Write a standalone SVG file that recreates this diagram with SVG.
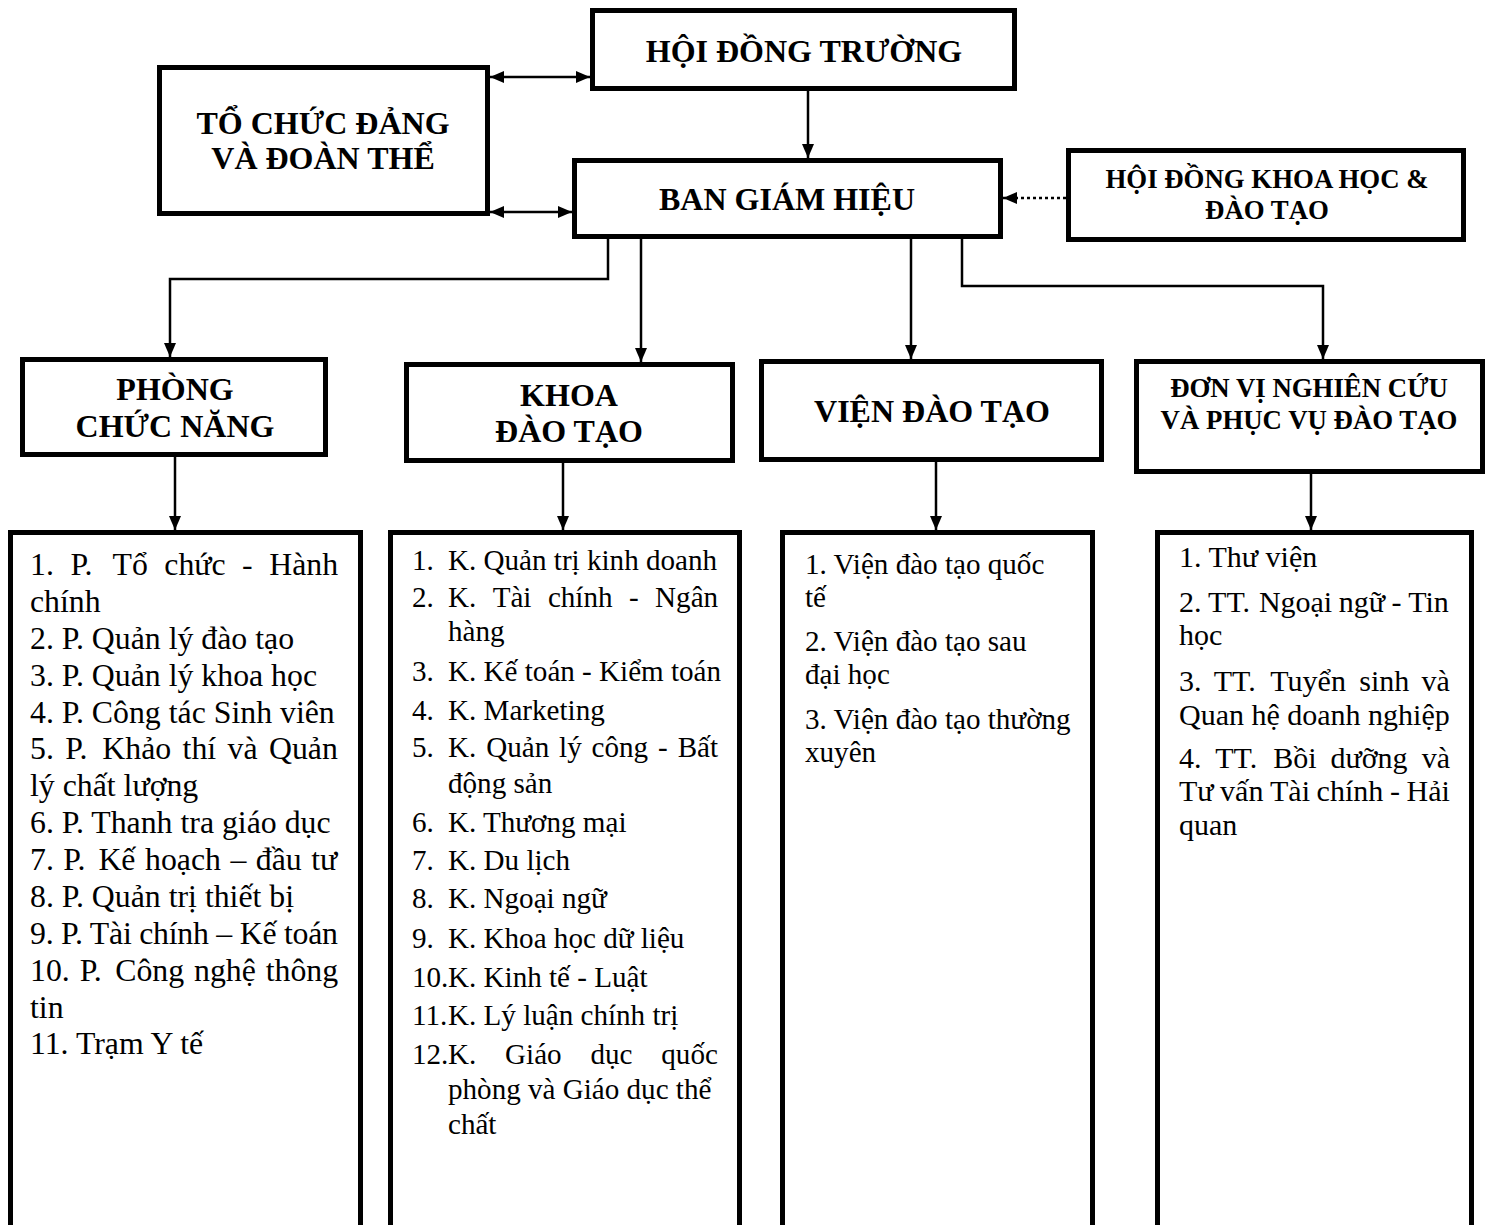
<svg xmlns="http://www.w3.org/2000/svg" width="1488" height="1225" viewBox="0 0 1488 1225">
<style>
.box{fill:#fff;stroke:#000;stroke-width:5}
.t{font-family:"Liberation Serif","Times New Roman",serif;font-weight:bold;font-size:32px;text-anchor:middle;fill:#000}
.s{font-size:26.8px}
.l{font-family:"Liberation Serif","Times New Roman",serif;font-size:29.1px;fill:#000}
.l1{font-size:31.8px}
.l4{font-size:30px}
.c{fill:none;stroke:#000;stroke-width:2.5}
.d{stroke-dasharray:3 3}
</style>
<defs>
<marker id="ah" viewBox="0 0 14 12" refX="14" refY="6" markerWidth="14" markerHeight="12" markerUnits="userSpaceOnUse" orient="auto-start-reverse">
<path d="M0,0 L14,6 L0,12 z" fill="#000"/>
</marker>
</defs>
<rect width="1488" height="1225" fill="#fff"/>

<g id="hoi-dong-truong">
<rect class="box" x="592.5" y="10.5" width="422" height="78"/>
<text class="t" x="804" y="62">HỘI ĐỒNG TRƯỜNG</text>
</g>
<g id="to-chuc-dang">
<rect class="box" x="159.5" y="67.5" width="328" height="146"/>
<text class="t" x="323" y="134">TỔ CHỨC ĐẢNG</text>
<text class="t" x="323" y="169">VÀ ĐOÀN THỂ</text>
</g>
<g id="ban-giam-hieu">
<rect class="box" x="574.5" y="160.5" width="426" height="76"/>
<text class="t" x="787" y="210">BAN GIÁM HIỆU</text>
</g>
<g id="hoi-dong-khoa-hoc">
<rect class="box" x="1068.5" y="150.5" width="395" height="89"/>
<text class="t s" x="1267" y="188">HỘI ĐỒNG KHOA HỌC &amp;</text>
<text class="t s" x="1267" y="219">ĐÀO TẠO</text>
</g>
<g id="phong-chuc-nang">
<rect class="box" x="22.5" y="359.5" width="303" height="95"/>
<text class="t" x="175" y="400">PHÒNG</text>
<text class="t" x="175" y="437">CHỨC NĂNG</text>
</g>
<g id="khoa-dao-tao">
<rect class="box" x="406.5" y="364.5" width="326" height="96"/>
<text class="t" x="569" y="406">KHOA</text>
<text class="t" x="569" y="442">ĐÀO TẠO</text>
</g>
<g id="vien-dao-tao">
<rect class="box" x="761.5" y="361.5" width="340" height="98"/>
<text class="t" x="932" y="422">VIỆN ĐÀO TẠO</text>
</g>
<g id="don-vi-nghien-cuu">
<rect class="box" x="1136.5" y="361.5" width="346" height="110"/>
<text class="t s" x="1309" y="397">ĐƠN VỊ NGHIÊN CỨU</text>
<text class="t s" x="1309" y="429">VÀ PHỤC VỤ ĐÀO TẠO</text>
</g>

<g id="list-phong">
<rect class="box" x="10.5" y="532.5" width="350" height="720"/>
<text class="l l1" y="575"><tspan x="30">1.</tspan><tspan x="70.4">P.</tspan><tspan x="112.5">Tổ</tspan><tspan x="164.3">chức</tspan><tspan x="242.1">-</tspan><tspan x="269.2">Hành</tspan></text>
<text class="l l1" x="30" y="612">chính</text>
<text class="l l1" x="30" y="649">2. P. Quản lý đào tạo</text>
<text class="l l1" x="30" y="686">3. P. Quản lý khoa học</text>
<text class="l l1" x="30" y="723">4. P. Công tác Sinh viên</text>
<text class="l l1" y="759"><tspan x="30">5.</tspan><tspan x="65.3">P.</tspan><tspan x="102.3">Khảo</tspan><tspan x="182.6">thí</tspan><tspan x="227.6">và</tspan><tspan x="269">Quản</tspan></text>
<text class="l l1" x="30" y="796">lý chất lượng</text>
<text class="l l1" x="30" y="833">6. P. Thanh tra giáo dục</text>
<text class="l l1" y="870"><tspan x="30">7.</tspan><tspan x="63.3">P.</tspan><tspan x="98.4">Kế</tspan><tspan x="145">hoạch</tspan><tspan x="230.4">–</tspan><tspan x="255.8">đầu</tspan><tspan x="311.2">tư</tspan></text>
<text class="l l1" x="30" y="907">8. P. Quản trị thiết bị</text>
<text class="l l1" x="30" y="944" textLength="308" lengthAdjust="spacing">9. P. Tài chính – Kế toán</text>
<text class="l l1" y="981"><tspan x="30">10.</tspan><tspan x="79.7">P.</tspan><tspan x="115.2">Công</tspan><tspan x="194">nghệ</tspan><tspan x="265.7">thông</tspan></text>
<text class="l l1" x="30" y="1018">tin</text>
<text class="l l1" x="30" y="1054">11. Trạm Y tế</text>
</g>

<g id="list-khoa">
<rect class="box" x="390.5" y="532.5" width="349" height="720"/>
<text class="l" y="570"><tspan x="412">1.</tspan><tspan x="448">K. Quản trị kinh doanh</tspan></text>
<text class="l" y="607"><tspan x="412">2.</tspan><tspan x="448">K.</tspan><tspan x="492.7">Tài</tspan><tspan x="547.9">chính</tspan><tspan x="629">-</tspan><tspan x="655.1">Ngân</tspan></text>
<text class="l" x="448" y="641">hàng</text>
<text class="l" y="681"><tspan x="412">3.</tspan><tspan x="448">K. Kế toán - Kiểm toán</tspan></text>
<text class="l" y="720"><tspan x="412">4.</tspan><tspan x="448">K. Marketing</tspan></text>
<text class="l" y="757"><tspan x="412">5.</tspan><tspan x="448">K.</tspan><tspan x="486.2">Quản</tspan><tspan x="559.1">lý</tspan><tspan x="591.6">công</tspan><tspan x="658.1">-</tspan><tspan x="677.7">Bất</tspan></text>
<text class="l" x="448" y="793">động sản</text>
<text class="l" y="832"><tspan x="412">6.</tspan><tspan x="448">K. Thương mại</tspan></text>
<text class="l" y="870"><tspan x="412">7.</tspan><tspan x="448">K. Du lịch</tspan></text>
<text class="l" y="908"><tspan x="412">8.</tspan><tspan x="448">K. Ngoại ngữ</tspan></text>
<text class="l" y="948"><tspan x="412">9.</tspan><tspan x="448">K. Khoa học dữ liệu</tspan></text>
<text class="l" y="987"><tspan x="412">10.</tspan><tspan x="448">K. Kinh tế - Luật</tspan></text>
<text class="l" y="1025"><tspan x="412">11.</tspan><tspan x="448">K. Lý luận chính trị</tspan></text>
<text class="l" y="1064"><tspan x="412">12.</tspan><tspan x="448">K.</tspan><tspan x="505.1">Giáo</tspan><tspan x="590.5">dục</tspan><tspan x="661.3">quốc</tspan></text>
<text class="l" x="448" y="1099">phòng và Giáo dục thể</text>
<text class="l" x="448" y="1134">chất</text>
</g>

<g id="list-vien">
<rect class="box" x="782.5" y="532.5" width="310" height="720"/>
<text class="l" x="805" y="574">1. Viện đào tạo quốc</text>
<text class="l" x="805" y="607">tế</text>
<text class="l" x="805" y="651">2. Viện đào tạo sau</text>
<text class="l" x="805" y="684">đại học</text>
<text class="l" x="805" y="729">3. Viện đào tạo thường</text>
<text class="l" x="805" y="762">xuyên</text>
</g>

<g id="list-don-vi">
<rect class="box" x="1157.5" y="532.5" width="314" height="720"/>
<text class="l l4" x="1179" y="567">1. Thư viện</text>
<text class="l l4" y="612"><tspan x="1179">2.</tspan><tspan x="1208.1">TT.</tspan><tspan x="1258.9">Ngoại</tspan><tspan x="1338.8">ngữ</tspan><tspan x="1391.6">-</tspan><tspan x="1408.2">Tin</tspan></text>
<text class="l l4" x="1179" y="645">học</text>
<text class="l l4" y="691"><tspan x="1179">3.</tspan><tspan x="1213.8">TT.</tspan><tspan x="1270.3">Tuyển</tspan><tspan x="1359.3">sinh</tspan><tspan x="1421.6">và</tspan></text>
<text class="l l4" x="1179" y="725">Quan hệ doanh nghiệp</text>
<text class="l l4" y="768"><tspan x="1179">4.</tspan><tspan x="1215.3">TT.</tspan><tspan x="1273.3">Bồi</tspan><tspan x="1330.5">dưỡng</tspan><tspan x="1421.7">và</tspan></text>
<text class="l l4" y="801"><tspan x="1179">Tư</tspan><tspan x="1220.1">vấn</tspan><tspan x="1270">Tài</tspan><tspan x="1316.6">chính</tspan><tspan x="1390">-</tspan><tspan x="1406.6">Hải</tspan></text>
<text class="l l4" x="1179" y="835">quan</text>
</g>

<g id="connectors">
<path class="c" d="M808,91 V158" marker-end="url(#ah)"/>
<path class="c" d="M490,77 H590" marker-start="url(#ah)" marker-end="url(#ah)"/>
<path class="c" d="M490,212 H572" marker-start="url(#ah)" marker-end="url(#ah)"/>
<path class="c d" d="M1066,198 H1003" marker-end="url(#ah)"/>
<path class="c" d="M608,239 V279 H170 V357" marker-end="url(#ah)"/>
<path class="c" d="M641,239 V362" marker-end="url(#ah)"/>
<path class="c" d="M911,239 V359" marker-end="url(#ah)"/>
<path class="c" d="M962,239 V286 H1323 V359" marker-end="url(#ah)"/>
<path class="c" d="M175,457 V530" marker-end="url(#ah)"/>
<path class="c" d="M563,463 V530" marker-end="url(#ah)"/>
<path class="c" d="M936,462 V530" marker-end="url(#ah)"/>
<path class="c" d="M1311,474 V530" marker-end="url(#ah)"/>
</g>
</svg>
